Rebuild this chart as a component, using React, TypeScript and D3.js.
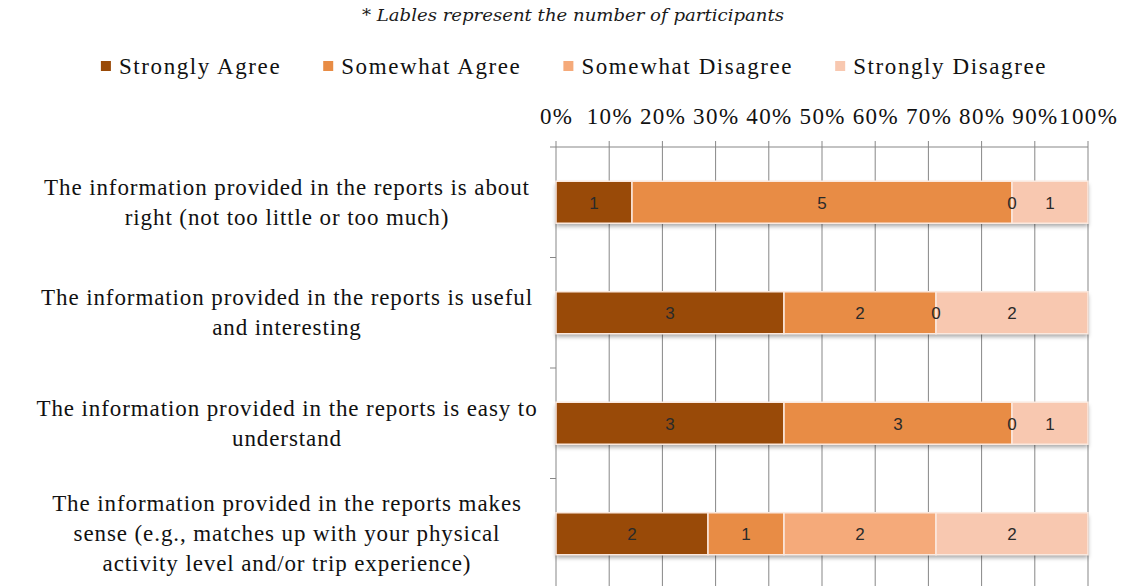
import React, { useEffect, useRef } from "react";
import * as d3 from "d3";

const categories: string[][] = [
  ["The information provided in the reports is about", "right (not too little or too much)"],
  ["The information provided in the reports is useful", "and interesting"],
  ["The information provided in the reports is easy to", "understand"],
  ["The information provided in the reports makes", "sense (e.g., matches up with your physical", "activity level and/or trip experience)"],
];
const seriesNames = ["Strongly Agree", "Somewhat Agree", "Somewhat Disagree", "Strongly Disagree"];
const stronglyAgree = [1, 3, 3, 2];
const somewhatAgree = [5, 2, 3, 1];
const somewhatDisagree = [0, 0, 0, 2];
const stronglyDisagree = [1, 2, 1, 2];
const colors = ["#994a08", "#e88c45", "#f5aa7a", "#f8c8b0"];
const tickValues = [0, 0.1, 0.2, 0.3, 0.4, 0.5, 0.6, 0.7, 0.8, 0.9, 1];
const title = "* Lables represent the number of participants";

export default function App() {
  const ref = useRef<SVGSVGElement>(null);
  useEffect(() => {
    const svg = d3.select(ref.current);
    svg.selectAll("*").remove();
    const H = 586;
    const left = 556, right = 1088, top = 147, bottom = 589;
    const serif = "'Liberation Serif', 'Times New Roman', serif";

    const defs = svg.append("defs");
    const f = defs.append("filter").attr("id", "sh").attr("x", "-5%").attr("y", "-20%").attr("width", "110%").attr("height", "160%");
    f.append("feDropShadow").attr("dx", 0).attr("dy", 3).attr("stdDeviation", 2).attr("flood-color", "#000").attr("flood-opacity", 0.35);

    // title
    svg.append("text").attr("x", 573).attr("y", 21).attr("text-anchor", "middle")
      .attr("font-family", "'DejaVu Serif', serif").attr("font-style", "italic").attr("font-size", 16)
      .attr("textLength", 422).attr("lengthAdjust", "spacingAndGlyphs")
      .attr("fill", "#1a1a1a").text(title);

    // legend
    const lg = svg.append("g");
    let x = 0;
    seriesNames.forEach((n, i) => {
      const g = lg.append("g").attr("transform", `translate(${x},0)`);
      g.append("rect").attr("x", 0).attr("y", 61).attr("width", 10).attr("height", 10).attr("fill", colors[i]);
      const t = g.append("text").attr("x", 18).attr("y", 74).attr("font-family", serif).attr("font-size", 23)
        .attr("letter-spacing", 1.6).attr("fill", "#111").text(n);
      const w = (t.node() as SVGTextElement).getComputedTextLength();
      x += 18 + w + 42;
    });
    const totalW = x - 42;
    lg.attr("transform", `translate(${574 - totalW / 2},0)`);

    const xs = d3.scaleLinear().domain([0, 1]).range([left, right]);
    const ys = d3.scaleBand<number>().domain(d3.range(categories.length)).range([top, bottom]).paddingInner(0.62).paddingOuter(0.31);

    // gridlines
    svg.append("g").selectAll("line").data(tickValues).join("line")
      .attr("x1", d => xs(d)).attr("x2", d => xs(d)).attr("y1", top - 6).attr("y2", H + 5)
      .attr("stroke", "#878787").attr("stroke-width", 1);
    svg.append("line").attr("x1", left).attr("x2", right).attr("y1", top).attr("y2", top).attr("stroke", "#878787");
    const step = ys.step();
    svg.append("g").selectAll("line").data(d3.range(categories.length + 1)).join("line")
      .attr("x1", left - 6).attr("x2", left).attr("y1", d => top + d * step).attr("y2", d => top + d * step)
      .attr("stroke", "#878787");

    // tick labels
    svg.append("g").selectAll("text").data(tickValues).join("text")
      .attr("x", d => xs(d) + 0.7).attr("y", 124).attr("text-anchor", "middle")
      .attr("font-family", serif).attr("font-size", 23).attr("letter-spacing", 1.4).attr("fill", "#111")
      .text(d => d3.format(".0%")(d));

    // bars
    const series = [stronglyAgree, somewhatAgree, somewhatDisagree, stronglyDisagree];
    const rows = categories.map((_, i) => {
      const vals = series.map(s => s[i]);
      const tot = d3.sum(vals);
      let acc = 0;
      return vals.map((v, k) => {
        const x0 = acc / tot; acc += v; const x1 = acc / tot;
        return { i, k, v, x0, x1 };
      });
    });
    const segs = rows.flat();
    const bg = svg.append("g");
    bg.selectAll("rect.sh").data(rows).join("rect")
      .attr("x", xs(0)).attr("width", xs(1) - xs(0))
      .attr("y", (_, i) => ys(i)!).attr("height", ys.bandwidth())
      .attr("fill", "#fff").attr("filter", "url(#sh)");
    bg.selectAll("rect.seg").data(segs.filter(s => s.v > 0)).join("rect")
      .attr("x", d => xs(d.x0)).attr("width", d => xs(d.x1) - xs(d.x0))
      .attr("y", d => ys(d.i)!).attr("height", ys.bandwidth())
      .attr("fill", d => colors[d.k]).attr("stroke", "#fbe9df").attr("stroke-width", 1.5);
    bg.selectAll("text").data(segs).join("text")
      .attr("x", d => xs((d.x0 + d.x1) / 2)).attr("y", d => ys(d.i)! + ys.bandwidth() / 2 + 6.5)
      .attr("text-anchor", "middle").attr("font-family", "'Liberation Sans', Arial, sans-serif").attr("font-size", 17)
      .attr("fill", "#2a2a2a").text(d => String(d.v));

    // category labels
    const cg = svg.append("g");
    categories.forEach((lines, i) => {
      const cy = ys(i)! + ys.bandwidth() / 2;
      const lh = 30;
      const t = cg.append("text").attr("text-anchor", "middle").attr("font-family", serif).attr("font-size", 23)
        .attr("letter-spacing", 0.9).attr("fill", "#111");
      lines.forEach((l, j) => {
        t.append("tspan").attr("x", 287).attr("y", cy + (j - (lines.length - 1) / 2) * lh + 7.5).text(l);
      });
    });
  }, []);
  return (
    <svg ref={ref} width={1121} height={586} style={{ position: "absolute", left: 0, top: 0, background: "#fff" }} />
  );
}
